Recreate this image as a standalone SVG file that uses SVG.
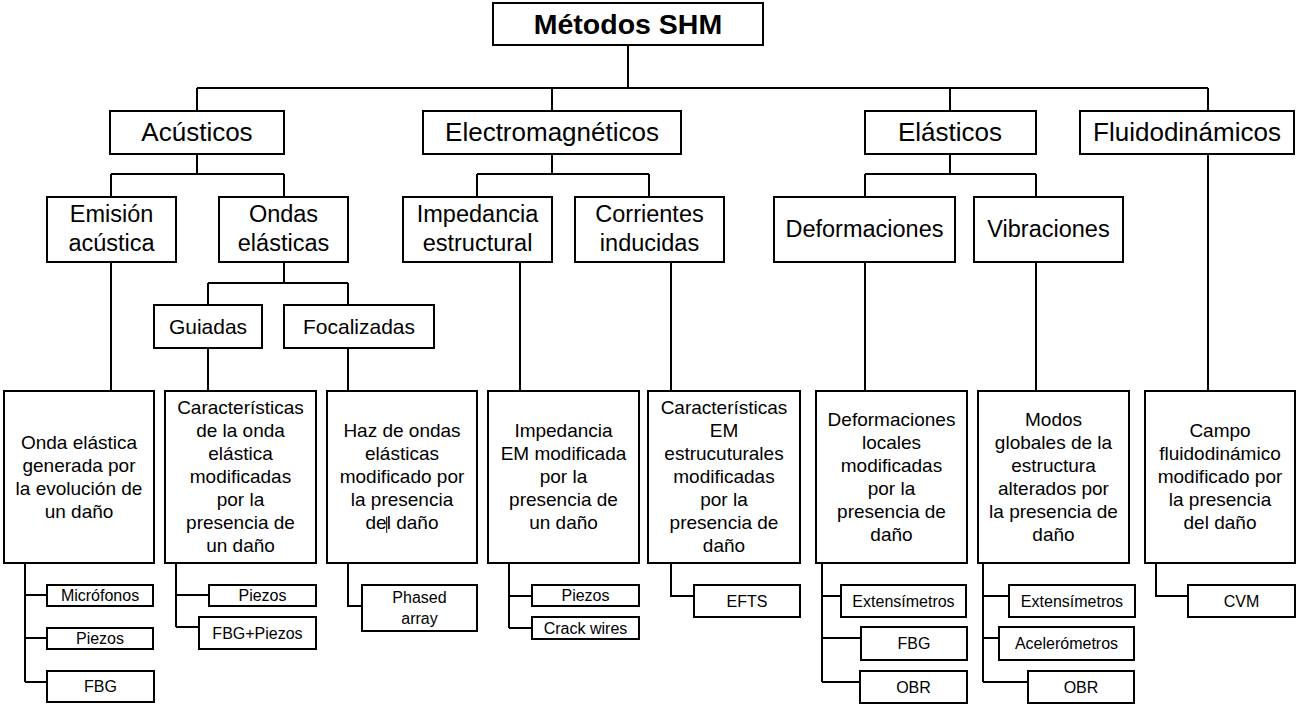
<svg xmlns="http://www.w3.org/2000/svg" width="1300" height="708" viewBox="0 0 1300 708">
<style>
rect{fill:#fff;stroke:#000;stroke-width:2}
text{font-family:"Liberation Sans",Arial,sans-serif;fill:#000;text-anchor:middle}
.t0{font-size:28.5px;font-weight:bold}
.t1{font-size:26px}
.t2{font-size:23.5px}
.t2b{font-size:21px}
.t3{font-size:19px}
.t4{font-size:16px}
#connectors path{fill:none;stroke:#000;stroke-width:2}
</style>
<rect x="0" y="0" width="1300" height="708" style="fill:#fff;stroke:none"/>
<g id="connectors">
<path d="M628 45V88M197 88H1208M197 88V111M552 88V111M950 88V111M1208 88V111"/>
<path d="M197 154V174M111 174H284M111 174V197M284 174V197"/>
<path d="M552 154V174M477 174H649M477 174V197M649 174V197"/>
<path d="M950 154V174M865 174H1036M865 174V197M1036 174V197"/>
<path d="M284 262V283M208 283H348M208 283V305M348 283V305"/>
<path d="M111 262V391M208 348V391M348 348V391M520 262V391M671 262V391M865 262V391M1036 262V391M1208 154V391"/>
<path d="M25 563V682M25 595H47M25 638H47M25 682H47"/>
<path d="M176 563V627M176 595H209M176 627H199"/>
<path d="M348 563V606H362"/>
<path d="M509 563V628M509 596H532M509 628H532"/>
<path d="M671 563V596H694"/>
<path d="M822 563V682M822 596H841M822 638H861M822 682H860"/>
<path d="M983 563V682M983 596H1009M983 638H999M983 682H1028"/>
<path d="M1156 563V596H1188"/>
</g>
<g id="n-root"><rect x="493" y="3" width="270" height="42"/><text class="t0" x="628" y="33.5">Métodos SHM</text></g>
<g id="n-acusticos"><rect x="110" y="111" width="174" height="43"/><text class="t1" x="197" y="141">Acústicos</text></g>
<g id="n-electro"><rect x="423" y="111" width="258" height="43"/><text class="t1" x="552" y="141">Electromagnéticos</text></g>
<g id="n-elasticos"><rect x="865" y="111" width="171" height="43"/><text class="t1" x="950" y="141">Elásticos</text></g>
<g id="n-fluido"><rect x="1080" y="111" width="214" height="43"/><text class="t1" x="1187" y="141">Fluidodinámicos</text></g>
<g id="n-emision"><rect x="47" y="197" width="129" height="65"/><text class="t2" x="111.5" y="222">Emisión</text><text class="t2" x="111.5" y="251">acústica</text></g>
<g id="n-ondas"><rect x="219" y="197" width="129" height="65"/><text class="t2" x="283.5" y="222">Ondas</text><text class="t2" x="283.5" y="251">elásticas</text></g>
<g id="n-impedancia"><rect x="403" y="197" width="149" height="65"/><text class="t2" x="477.5" y="222">Impedancia</text><text class="t2" x="477.5" y="251">estructural</text></g>
<g id="n-corrientes"><rect x="575" y="197" width="149" height="65"/><text class="t2" x="649.5" y="222">Corrientes</text><text class="t2" x="649.5" y="251">inducidas</text></g>
<g id="n-deform"><rect x="774" y="197" width="181" height="65"/><text class="t2" x="864.5" y="237">Deformaciones</text></g>
<g id="n-vibr"><rect x="974" y="197" width="149" height="65"/><text class="t2" x="1048.5" y="237">Vibraciones</text></g>
<g id="n-guiadas"><rect x="154" y="305" width="108" height="43"/><text class="t2b" x="208" y="334">Guiadas</text></g>
<g id="n-focal"><rect x="284" y="305" width="150" height="43"/><text class="t2b" x="359" y="334">Focalizadas</text></g>
<g id="n-d1"><rect x="4" y="391" width="150" height="172"/><text class="t3" x="79"><tspan x="79" y="448.5">Onda elástica</tspan><tspan x="79" y="471.5">generada por</tspan><tspan x="79" y="494.5">la evolución de</tspan><tspan x="79" y="517.5">un daño</tspan></text></g>
<g id="n-d2"><rect x="165" y="391" width="151" height="172"/><text class="t3" x="240.5"><tspan x="240.5" y="414">Características</tspan><tspan x="240.5" y="437">de la onda</tspan><tspan x="240.5" y="460">elástica</tspan><tspan x="240.5" y="483">modificadas</tspan><tspan x="240.5" y="506">por la</tspan><tspan x="240.5" y="529">presencia de</tspan><tspan x="240.5" y="552">un daño</tspan></text></g>
<g id="n-d3"><rect x="327" y="391" width="150" height="172"/><text class="t3" x="402"><tspan x="402" y="437">Haz de ondas</tspan><tspan x="402" y="460">elásticas</tspan><tspan x="402" y="483">modificado por</tspan><tspan x="402" y="506">la presencia</tspan><tspan x="402" y="529">del daño</tspan></text><path d="M386.7 517V533" stroke="#000" stroke-width="1"/></g>
<g id="n-d4"><rect x="488" y="391" width="151" height="172"/><text class="t3" x="563.5"><tspan x="563.5" y="437">Impedancia</tspan><tspan x="563.5" y="460">EM modificada</tspan><tspan x="563.5" y="483">por la</tspan><tspan x="563.5" y="506">presencia de</tspan><tspan x="563.5" y="529">un daño</tspan></text></g>
<g id="n-d5"><rect x="648" y="391" width="152" height="172"/><text class="t3" x="724"><tspan x="724" y="414">Características</tspan><tspan x="724" y="437">EM</tspan><tspan x="724" y="460">estrucuturales</tspan><tspan x="724" y="483">modificadas</tspan><tspan x="724" y="506">por la</tspan><tspan x="724" y="529">presencia de</tspan><tspan x="724" y="552">daño</tspan></text></g>
<g id="n-d6"><rect x="816" y="391" width="151" height="172"/><text class="t3" x="891.5"><tspan x="891.5" y="425.5">Deformaciones</tspan><tspan x="891.5" y="448.5">locales</tspan><tspan x="891.5" y="471.5">modificadas</tspan><tspan x="891.5" y="494.5">por la</tspan><tspan x="891.5" y="517.5">presencia de</tspan><tspan x="891.5" y="540.5">daño</tspan></text></g>
<g id="n-d7"><rect x="978" y="391" width="151" height="172"/><text class="t3" x="1053.5"><tspan x="1053.5" y="425.5">Modos</tspan><tspan x="1053.5" y="448.5">globales de la</tspan><tspan x="1053.5" y="471.5">estructura</tspan><tspan x="1053.5" y="494.5">alterados por</tspan><tspan x="1053.5" y="517.5">la presencia de</tspan><tspan x="1053.5" y="540.5">daño</tspan></text></g>
<g id="n-d8"><rect x="1145" y="391" width="150" height="172"/><text class="t3" x="1220"><tspan x="1220" y="437">Campo</tspan><tspan x="1220" y="460">fluidodinámico</tspan><tspan x="1220" y="483">modificado por</tspan><tspan x="1220" y="506">la presencia</tspan><tspan x="1220" y="529">del daño</tspan></text></g>
<g id="l-microfonos"><rect x="47" y="585" width="106" height="21"/><text class="t4" x="100" y="601">Micrófonos</text></g>
<g id="l-piezos1"><rect x="47" y="628" width="106" height="21"/><text class="t4" x="100" y="644">Piezos</text></g>
<g id="l-fbg1"><rect x="47" y="671" width="107" height="31"/><text class="t4" x="100.5" y="692">FBG</text></g>
<g id="l-piezos2"><rect x="209" y="585" width="107" height="21"/><text class="t4" x="262.5" y="601">Piezos</text></g>
<g id="l-fbgpiezos"><rect x="199" y="617" width="117" height="32"/><text class="t4" x="257.5" y="638.6">FBG+Piezos</text></g>
<g id="l-phased"><rect x="362" y="585" width="115" height="46"/><text class="t4" x="419.5"><tspan x="419.5" y="603">Phased</tspan><tspan x="419.5" y="623.5">array</tspan></text></g>
<g id="l-piezos3"><rect x="532" y="585" width="107" height="21"/><text class="t4" x="585.5" y="601">Piezos</text></g>
<g id="l-crack"><rect x="532" y="617" width="107" height="22"/><text class="t4" x="585.5" y="633.6">Crack wires</text></g>
<g id="l-efts"><rect x="694" y="585" width="106" height="32"/><text class="t4" x="747" y="606.6">EFTS</text></g>
<g id="l-ext1"><rect x="841" y="585" width="125" height="32"/><text class="t4" x="903.5" y="606.6">Extensímetros</text></g>
<g id="l-fbg2"><rect x="861" y="627" width="106" height="33"/><text class="t4" x="914" y="649">FBG</text></g>
<g id="l-obr1"><rect x="860" y="671" width="107" height="32"/><text class="t4" x="913.5" y="692.6">OBR</text></g>
<g id="l-ext2"><rect x="1009" y="585" width="126" height="32"/><text class="t4" x="1072" y="606.6">Extensímetros</text></g>
<g id="l-acel"><rect x="999" y="627" width="135" height="33"/><text class="t4" x="1066.5" y="649">Acelerómetros</text></g>
<g id="l-obr2"><rect x="1028" y="671" width="106" height="32"/><text class="t4" x="1081" y="692.6">OBR</text></g>
<g id="l-cvm"><rect x="1188" y="585" width="107" height="32"/><text class="t4" x="1241.5" y="606.6">CVM</text></g>
</svg>
